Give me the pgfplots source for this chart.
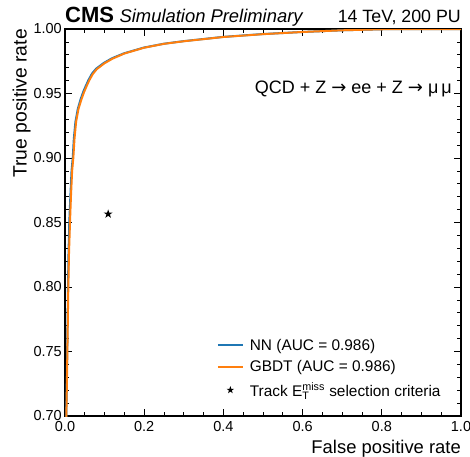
\documentclass[border=0pt]{standalone}
\usepackage{amsmath}
\usepackage{fontspec}
\setmainfont{Liberation Sans}
\newfontfamily\dejavu{DejaVu Sans}
\usepackage{pgfplots}
\pgfplotsset{compat=1.18}
\definecolor{mplblue}{HTML}{1F77B4}
\definecolor{mplorange}{HTML}{FF7F0E}
\pgfdeclareplotmark{fstar}{%
  \pgfpathmoveto{\pgfpointpolar{90}{\pgfplotmarksize}}%
  \pgfpathlineto{\pgfpointpolar{126}{0.382\pgfplotmarksize}}%
  \pgfpathlineto{\pgfpointpolar{162}{\pgfplotmarksize}}%
  \pgfpathlineto{\pgfpointpolar{198}{0.382\pgfplotmarksize}}%
  \pgfpathlineto{\pgfpointpolar{234}{\pgfplotmarksize}}%
  \pgfpathlineto{\pgfpointpolar{270}{0.382\pgfplotmarksize}}%
  \pgfpathlineto{\pgfpointpolar{306}{\pgfplotmarksize}}%
  \pgfpathlineto{\pgfpointpolar{342}{0.382\pgfplotmarksize}}%
  \pgfpathlineto{\pgfpointpolar{18}{\pgfplotmarksize}}%
  \pgfpathlineto{\pgfpointpolar{54}{0.382\pgfplotmarksize}}%
  \pgfpathclose
  \pgfusepathqfill}
\pgfplotsset{
  linelegend/.style={legend image code/.code={\draw[##1] (0pt,0pt) -- (25pt,0pt);}},
  starlegend/.style={legend image code/.code={\draw[##1, mark size=4pt] plot coordinates {(12.5pt,0pt)};}},
}
\begin{document}
\begin{tikzpicture}
\path[use as bounding box] (-65pt,-40pt) rectangle (405pt,416pt);
\begin{axis}[
  at={(0pt,0pt)}, anchor=south west,
  scale only axis, width=396pt, height=387pt,
  xmin=0, xmax=1, ymin=0.7, ymax=1.0,
  xtick={0,0.2,0.4,0.6,0.8,1.0},
  ytick={0.70,0.75,0.80,0.85,0.90,0.95,1.00},
  minor x tick num=3, minor y tick num=4,
  tick align=inside,
  major tick length=7pt, minor tick length=4pt,
  every tick/.style={black, line width=0.8pt},
  axis line style={line width=1.2pt},
  /pgf/number format/assume math mode=true,
  xticklabel style={/pgf/number format/fixed, /pgf/number format/fixed zerofill, /pgf/number format/precision=1, inner sep=0pt, yshift=-5pt},
  yticklabel style={/pgf/number format/fixed, /pgf/number format/fixed zerofill, /pgf/number format/precision=2, inner sep=0pt, xshift=-3pt},
  tick label style={font=\fontsize{14.5}{17}\selectfont},
  legend style={at={(0.383,0.205)}, anchor=north west, draw=none, fill=none,
    font=\fontsize{15.4}{18}\selectfont, row sep=5pt, column sep=4pt, inner sep=0pt,
    nodes={inner sep=2pt}},
  legend cell align=left,
]
\addplot[mplblue, line width=2pt, linelegend] coordinates {
(0.0029,0.69)(0.0032,0.70)(0.0042,0.72)(0.0055,0.75)(0.0066,0.775)(0.0076,0.80)
(0.0088,0.825)(0.0108,0.85)(0.0135,0.87)(0.0165,0.89)(0.0195,0.90)(0.0223,0.915)
(0.0263,0.928)(0.0323,0.938)(0.0393,0.9455)(0.0463,0.9515)(0.0533,0.9565)(0.0593,0.9605)
(0.0683,0.9655)(0.0785,0.9692)(0.0985,0.9738)(0.1185,0.9773)(0.1485,0.9811)(0.199,0.9856)
(0.25,0.9886)(0.30,0.9906)(0.40,0.9939)(0.50,0.9961)(0.60,0.9977)(0.70,0.9990)
(0.80,0.9998)(0.88,1.0)(1.0,1.0)};
\addlegendentry{NN (AUC = 0.986)}
\addplot[mplorange, line width=2pt, linelegend] coordinates {
(0.0030,0.69)(0.0034,0.70)(0.0045,0.72)(0.0060,0.75)(0.0072,0.775)(0.0084,0.80)
(0.0100,0.825)(0.0126,0.85)(0.015,0.87)(0.018,0.89)(0.021,0.90)(0.024,0.915)
(0.028,0.928)(0.034,0.938)(0.041,0.945)(0.048,0.951)(0.055,0.956)(0.061,0.960)
(0.070,0.965)(0.080,0.9688)(0.100,0.9735)(0.120,0.977)(0.150,0.981)(0.200,0.9855)
(0.25,0.9885)(0.30,0.9905)(0.40,0.9938)(0.50,0.9960)(0.60,0.9977)(0.70,0.9990)
(0.80,0.9998)(0.88,1.0)(1.0,1.0)};
\addlegendentry{GBDT (AUC = 0.986)}
\addplot[only marks, mark=fstar, mark size=4.7pt, black, starlegend]
  coordinates {(0.109,0.8566)};
\addlegendentry{Track $\text{E}_{\text{T}}^{\text{miss}}$ selection criteria}
\end{axis}
\node[anchor=base west, inner sep=0pt] at (0pt,393pt)
  {\fontsize{22}{26}\selectfont\bfseries CMS\hspace{5.5pt}{\fontsize{18.4}{22}\selectfont\mdseries\itshape Simulation Preliminary}};
\node[anchor=base east, inner sep=0pt] at (396pt,393pt)
  {\fontsize{17.8}{21}\selectfont 14 TeV, 200 PU};
\node[anchor=base east, inner sep=0pt] at (387pt,322.7pt)
  {\fontsize{18}{21}\selectfont QCD + Z {\dejavu →} ee + Z {\dejavu →} μ\,μ};
\node[anchor=base east, inner sep=0pt] at (396pt,-37pt)
  {\fontsize{18.4}{22}\selectfont False positive rate};
\node[anchor=base east, inner sep=0pt, rotate=90] at (-38.3pt,387pt)
  {\fontsize{19.3}{23}\selectfont True positive rate};
\end{tikzpicture}
\end{document}
